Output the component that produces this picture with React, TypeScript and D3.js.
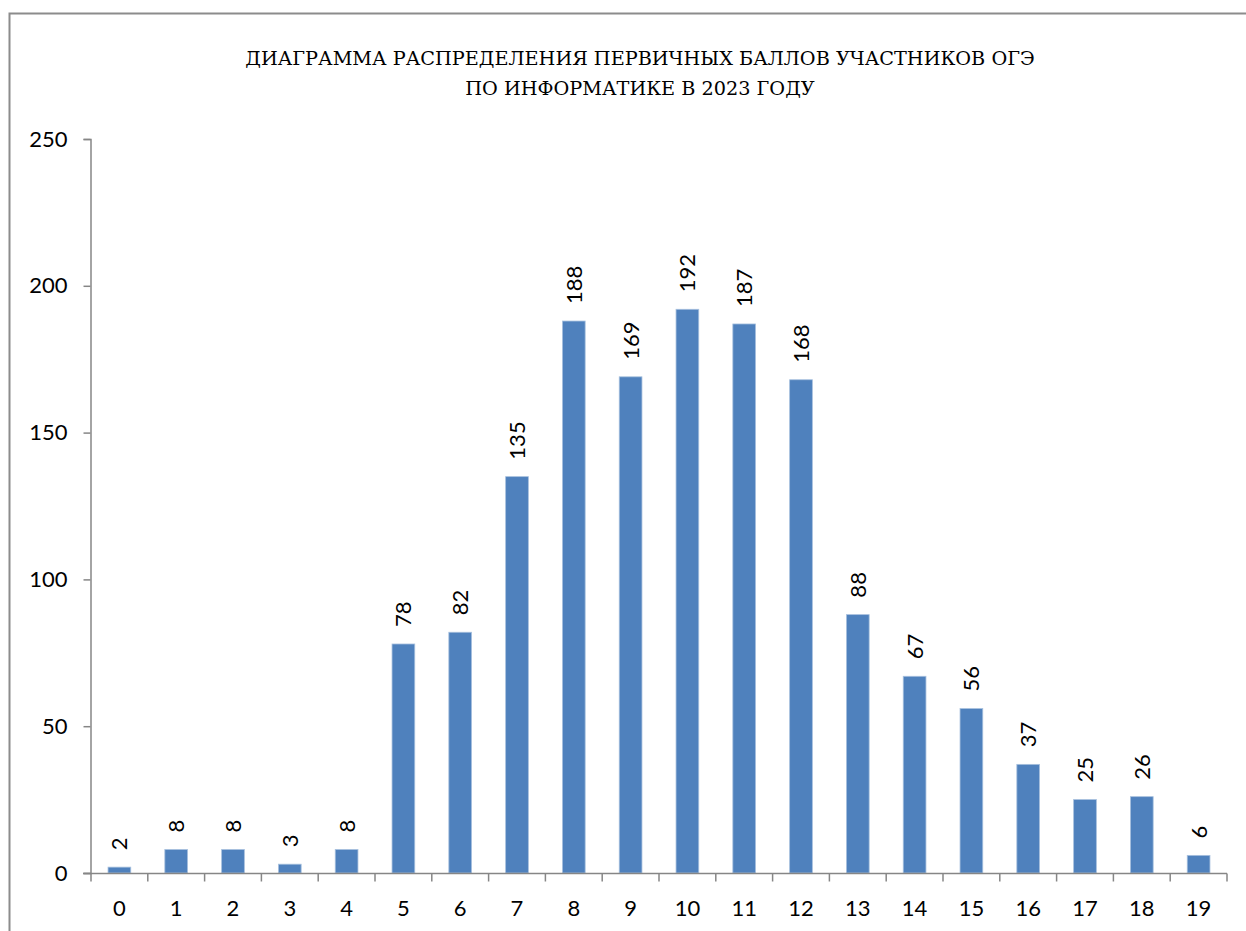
import React, { useEffect, useRef } from 'react';
import * as d3 from 'd3';

const scores = ['0', '1', '2', '3', '4', '5', '6', '7', '8', '9', '10', '11', '12', '13', '14', '15', '16', '17', '18', '19'];
const counts = [2, 8, 8, 3, 8, 78, 82, 135, 188, 169, 192, 187, 168, 88, 67, 56, 37, 25, 26, 6];
const yTicks = [0, 50, 100, 150, 200, 250];
const titleLines = ['ДИАГРАММА РАСПРЕДЕЛЕНИЯ ПЕРВИЧНЫХ БАЛЛОВ УЧАСТНИКОВ ОГЭ', 'ПО ИНФОРМАТИКЕ В 2023 ГОДУ'];

const W = 1246;
const H = 931;

export default function App() {
  const ref = useRef<SVGSVGElement>(null);

  useEffect(() => {
    const svg = d3.select(ref.current);
    svg.selectAll('*').remove();

    const left = 91, right = 1227, top = 139, bottom = 873;
    const font = 'Lato, "Open Sans", sans-serif';
    const axisColor = '#868686';

    // chart frame (only top and left edges are visible in the crop)
    svg.append('path')
      .attr('d', `M9.5,${H} L9.5,13.5 L${W},13.5`)
      .attr('fill', 'none')
      .attr('stroke', '#8c8c8c')
      .attr('stroke-width', 2);

    const title = svg.append('g')
      .selectAll('text')
      .data(titleLines)
      .join('text')
      .attr('x', 640)
      .attr('y', (d, i) => 65 + i * 30)
      .attr('text-anchor', 'middle')
      .attr('font-family', '"DejaVu Serif", serif')
      .attr('font-size', 17)
      .attr('fill', '#000')
      .text(d => d);

    // scale the title so the first line spans the same width as in the source
    const firstLine = title.node() as SVGTextElement;
    const w = firstLine.getComputedTextLength();
    if (w > 0) title.attr('font-size', 17 * 790 / w);

    const x = d3.scaleBand().domain(scores).range([left, right]).paddingInner(0.6).paddingOuter(0.3);
    const y = d3.scaleLinear().domain([0, 250]).range([bottom, top]);

    // bars
    svg.append('g')
      .selectAll('rect')
      .data(counts)
      .join('rect')
      .attr('x', (d, i) => x(scores[i])!)
      .attr('y', d => y(d))
      .attr('width', x.bandwidth())
      .attr('height', d => bottom - y(d))
      .attr('fill', '#4f81bd')
      .attr('stroke', '#a7c0de')
      .attr('stroke-width', 0.8);

    // y axis
    const yAxis = svg.append('g')
      .attr('transform', `translate(${left - 0.5},0)`)
      .call(d3.axisLeft(y).tickValues(yTicks).tickSize(7).tickPadding(16));
    yAxis.select('.domain').attr('stroke', axisColor).attr('stroke-width', 1.5);
    yAxis.selectAll('.tick line').attr('stroke', axisColor).attr('stroke-width', 1.5);
    yAxis.selectAll('.tick text')
      .attr('font-family', font)
      .attr('font-size', 22)
      .attr('fill', '#000');

    // x axis: ticks on category boundaries
    const step = (right - left) / scores.length;
    const xAxisG = svg.append('g').attr('transform', `translate(0,${bottom + 0.5})`);
    xAxisG.append('line')
      .attr('x1', left - 8).attr('x2', right)
      .attr('stroke', axisColor).attr('stroke-width', 1.5);
    xAxisG.selectAll('line.tick')
      .data(d3.range(scores.length + 1))
      .join('line')
      .attr('class', 'tick')
      .attr('x1', i => left + i * step)
      .attr('x2', i => left + i * step)
      .attr('y1', 0).attr('y2', 8)
      .attr('stroke', axisColor).attr('stroke-width', 1.5);
    xAxisG.selectAll('text')
      .data(scores)
      .join('text')
      .attr('x', d => x(d)! + x.bandwidth() / 2)
      .attr('y', 42)
      .attr('text-anchor', 'middle')
      .attr('font-family', font)
      .attr('font-size', 22)
      .attr('fill', '#000')
      .text(d => d);

    // rotated value labels
    svg.append('g')
      .selectAll('text')
      .data(counts)
      .join('text')
      .attr('transform', (d, i) => `translate(${x(scores[i])! + x.bandwidth() / 2 + 8},${y(d) - 17}) rotate(-90)`)
      .attr('text-anchor', 'start')
      .attr('font-family', font)
      .attr('font-size', 22)
      .attr('fill', '#000')
      .text(d => d);
  }, []);

  return <svg ref={ref} width={W} height={H} style={{ position: 'absolute', left: 0, top: 0, background: '#fff' }} />;
}
